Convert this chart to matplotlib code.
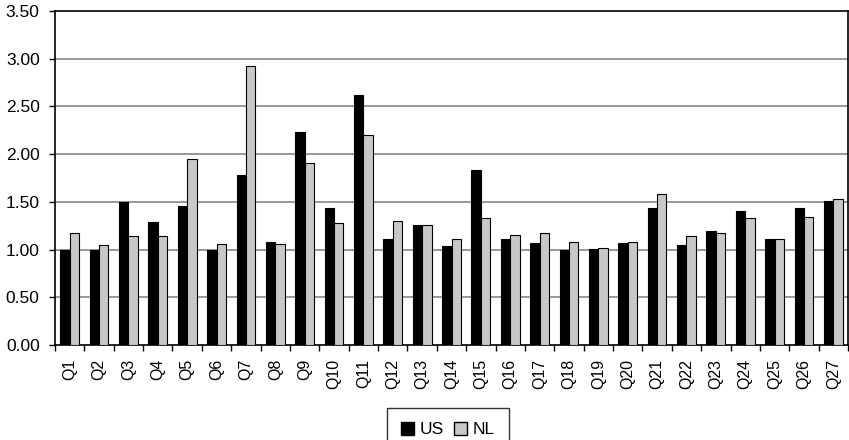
import matplotlib
matplotlib.use("Agg")
import matplotlib.pyplot as plt
import numpy as np
from matplotlib.patches import Patch

plt.rcParams['font.family'] = ['Liberation Sans', 'DejaVu Sans']

categories = [f"Q{i}" for i in range(1, 28)]
us = [1.00, 1.00, 1.495, 1.29, 1.46, 1.00, 1.78, 1.08, 2.23, 1.44, 2.62, 1.11, 1.255, 1.035,
      1.83, 1.11, 1.066, 1.00, 1.006, 1.066, 1.44, 1.048, 1.19, 1.40, 1.11, 1.44, 1.505]
nl = [1.17, 1.045, 1.14, 1.14, 1.95, 1.06, 2.92, 1.06, 1.91, 1.28, 2.20, 1.30, 1.255, 1.11,
      1.33, 1.156, 1.17, 1.08, 1.017, 1.08, 1.58, 1.14, 1.17, 1.33, 1.11, 1.345, 1.535]
y_ticks = [0.0, 0.5, 1.0, 1.5, 2.0, 2.5, 3.0, 3.5]

fig = plt.figure(figsize=(8.49, 4.40), dpi=100)
ax = fig.add_axes([55/849, 1-345/440, 793/849, 334/440])

x = np.arange(len(categories))
w = 0.32
ax.bar(x - w/2, us, w, color='black', edgecolor='black', linewidth=0.8, zorder=3)
ax.bar(x + w/2, nl, w, color='#c8c8c8', edgecolor='black', linewidth=0.8, zorder=3)

ax.set_xlim(-0.5, len(categories) - 0.5)
ax.set_ylim(0, 3.5)
ax.set_yticks(y_ticks)
ax.set_yticklabels([f"{v:.2f}" for v in y_ticks], fontsize=12.5)
for v in y_ticks[1:-1]:
    ax.axhline(v, color='#888888', linewidth=1.2, zorder=1)

ax.set_xticks(x)
ax.set_xticklabels(categories, rotation=90, fontsize=11.5)
ax.tick_params(axis='x', which='major', length=0, pad=10)
ax.set_xticks(np.arange(-0.5, len(categories), 1), minor=True)
ax.tick_params(axis='x', which='minor', length=4.5, width=1, direction='out')
ax.tick_params(axis='y', length=4, width=1, direction='out', pad=7)

for s in ax.spines.values():
    s.set_color('black')
    s.set_linewidth(1.2)

handles = [Patch(facecolor='black', edgecolor='black', label='US'),
           Patch(facecolor='#c8c8c8', edgecolor='black', label='NL')]
leg = fig.legend(handles=handles, loc='upper center', bbox_to_anchor=(448/849, 1-408/440),
                 ncol=2, frameon=True, fontsize=12.5, handlelength=0.75, handleheight=0.75,
                 handletextpad=0.3, columnspacing=0.6, fancybox=False, borderpad=0.8,
                 borderaxespad=0)
leg.get_frame().set_edgecolor('black')
leg.get_frame().set_linewidth(1.0)

fig.savefig("out.png", dpi=100)
